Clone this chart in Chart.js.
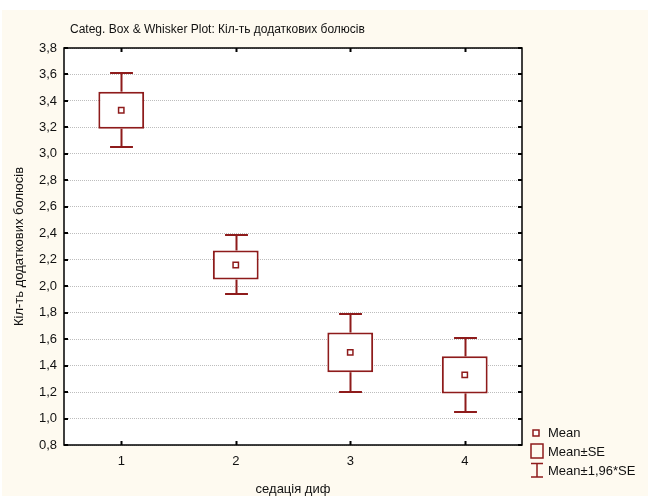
<!DOCTYPE html>
<html>
<head>
<meta charset="utf-8">
<script src="https://cdn.jsdelivr.net/npm/chart.js@4/dist/chart.umd.min.js"></script>
<style>
  html, body { margin: 0; padding: 0; background: #ffffff; }
  #wrap { width: 650px; height: 496px; }
</style>
</head>
<body>
<div id="wrap"><canvas id="boxChart" width="650" height="496"></canvas></div>
<script>
// Дані
const categories = ['1', '2', '3', '4'];
const means = [3.33, 2.16, 1.50, 1.33];
const seLow = [3.19, 2.05, 1.35, 1.19];
const seHigh = [3.47, 2.27, 1.65, 1.47];
const ciLow = [3.05, 1.94, 1.20, 1.05];
const ciHigh = [3.61, 2.39, 1.79, 1.61];
const yTicks = [0.8, 1.0, 1.2, 1.4, 1.6, 1.8, 2.0, 2.2, 2.4, 2.6, 2.8, 3.0, 3.2, 3.4, 3.6, 3.8];

const RED = '#8e1b1b';
const FONT = '"Liberation Sans", Arial, sans-serif';

const fmt = v => v.toFixed(1).replace('.', ',');

// Фон, рамка, вуса, легенда
const decorPlugin = {
    id: 'decor',
    beforeDraw(chart) {
        const { ctx, chartArea: a } = chart;
        ctx.save();
        ctx.fillStyle = '#fefaf0';
        ctx.fillRect(2, 10, 646, 486);
        ctx.fillStyle = '#ffffff';
        ctx.fillRect(a.left, a.top, a.right - a.left, a.bottom - a.top);
        ctx.restore();
    },
    afterDatasetsDraw(chart) {
        const { ctx, scales } = chart;
        const x = scales.x, y = scales.y;
        const step = x.getPixelForValue(1) - x.getPixelForValue(0);
        const cap = step * 0.1;

        ctx.save();
        ctx.strokeStyle = RED;
        ctx.lineWidth = 2;
        categories.forEach((c, i) => {
            const px = Math.round(x.getPixelForValue(i)) + 0.5;
            const segs = [[ciHigh[i], seHigh[i]], [seLow[i], ciLow[i]]];
            segs.forEach(([v1, v2]) => {
                ctx.beginPath();
                ctx.moveTo(px, y.getPixelForValue(v1));
                ctx.lineTo(px, y.getPixelForValue(v2));
                ctx.stroke();
            });
            [ciHigh[i], ciLow[i]].forEach(v => {
                const py = Math.round(y.getPixelForValue(v));
                ctx.beginPath();
                ctx.moveTo(px - cap, py);
                ctx.lineTo(px + cap, py);
                ctx.stroke();
            });
        });
        ctx.restore();
    },
    afterDraw(chart) {
        const { ctx, chartArea: a, scales } = chart;
        const x = scales.x, y = scales.y;
        ctx.save();

        // рамка
        ctx.strokeStyle = '#000000';
        ctx.lineWidth = 1.5;
        ctx.strokeRect(a.left, a.top, a.right - a.left, a.bottom - a.top);

        // внутрішні позначки
        ctx.lineWidth = 2;
        y.ticks.forEach(t => {
            const py = Math.round(y.getPixelForValue(t.value));
            ctx.beginPath();
            ctx.moveTo(a.left, py); ctx.lineTo(a.left + 4, py);
            ctx.moveTo(a.right, py); ctx.lineTo(a.right - 4, py);
            ctx.stroke();
        });
        categories.forEach((c, i) => {
            const px = Math.round(x.getPixelForValue(i)) + 0.5;
            ctx.beginPath();
            ctx.moveTo(px, a.top); ctx.lineTo(px, a.top + 4);
            ctx.moveTo(px, a.bottom); ctx.lineTo(px, a.bottom - 4);
            ctx.stroke();
        });

        // заголовок
        ctx.fillStyle = '#111111';
        ctx.font = '12px ' + FONT;
        ctx.textAlign = 'left';
        ctx.textBaseline = 'middle';
        ctx.fillText('Categ. Box & Whisker Plot: Кіл-ть додаткових болюсів', 70, 30);

        // легенда
        const lx = a.right + 14;
        ctx.strokeStyle = RED;
        ctx.lineWidth = 1.5;
        ctx.fillStyle = '#ffffff';
        ctx.fillRect(lx - 3, 430, 6, 6);
        ctx.strokeRect(lx - 3, 430, 6, 6);
        ctx.strokeRect(lx - 5, 444, 12, 14);
        ctx.beginPath();
        ctx.moveTo(lx - 5, 463.5); ctx.lineTo(lx + 7, 463.5);
        ctx.moveTo(lx + 1, 463.5); ctx.lineTo(lx + 1, 477);
        ctx.moveTo(lx - 5, 477); ctx.lineTo(lx + 7, 477);
        ctx.stroke();

        ctx.fillStyle = '#111111';
        ctx.font = '13px ' + FONT;
        ctx.fillText('Mean', lx + 12, 433);
        ctx.fillText('Mean±SE', lx + 12, 452);
        ctx.fillText('Mean±1,96*SE', lx + 12, 471);
        ctx.restore();
    }
};

const ctx = document.getElementById('boxChart').getContext('2d');
new Chart(ctx, {
    type: 'bar',
    data: {
        labels: categories,
        datasets: [
            {
                type: 'line',
                label: 'Mean',
                data: means,
                showLine: false,
                pointStyle: 'rect',
                pointRadius: 3.8,
                pointBorderWidth: 1.5,
                pointBorderColor: RED,
                pointBackgroundColor: '#ffffff',
                order: 0
            },
            {
                label: 'Mean±SE',
                data: categories.map((c, i) => [seLow[i], seHigh[i]]),
                backgroundColor: '#ffffff',
                borderColor: RED,
                borderWidth: 2,
                borderSkipped: false,
                barPercentage: 0.4,
                categoryPercentage: 1,
                order: 1
            }
        ]
    },
    options: {
        responsive: false,
        animation: false,
        events: [],
        layout: { padding: { left: 0, top: 48, right: 128, bottom: 0 } },
        plugins: {
            legend: { display: false },
            tooltip: { enabled: false },
            title: { display: false }
        },
        scales: {
            x: {
                offset: true,
                afterFit(scale) { scale.height = 51; },
                grid: { display: false, drawTicks: false },
                border: { display: false },
                ticks: {
                    color: '#111111',
                    font: { family: FONT, size: 13 },
                    padding: 9
                },
                title: {
                    display: true,
                    text: 'седація диф',
                    color: '#111111',
                    font: { family: FONT, size: 13 },
                    padding: { top: 0, bottom: -1 }
                }
            },
            y: {
                min: 0.8,
                max: 3.8,
                afterFit(scale) { scale.width = 64; },
                afterBuildTicks(scale) {
                    scale.ticks = yTicks.map(v => ({ value: v }));
                },
                grid: {
                    color: '#bdbdbd',
                    lineWidth: 1,
                    drawTicks: false
                },
                border: { display: false, dash: [1, 1] },
                ticks: {
                    color: '#111111',
                    font: { family: FONT, size: 13 },
                    padding: 7,
                    callback: v => fmt(v)
                },
                title: {
                    display: true,
                    text: 'Кіл-ть додаткових болюсів',
                    color: '#111111',
                    font: { family: FONT, size: 13 },
                    padding: { top: 12, bottom: 0 }
                }
            }
        }
    },
    plugins: [decorPlugin]
});
</script>
</body>
</html>
